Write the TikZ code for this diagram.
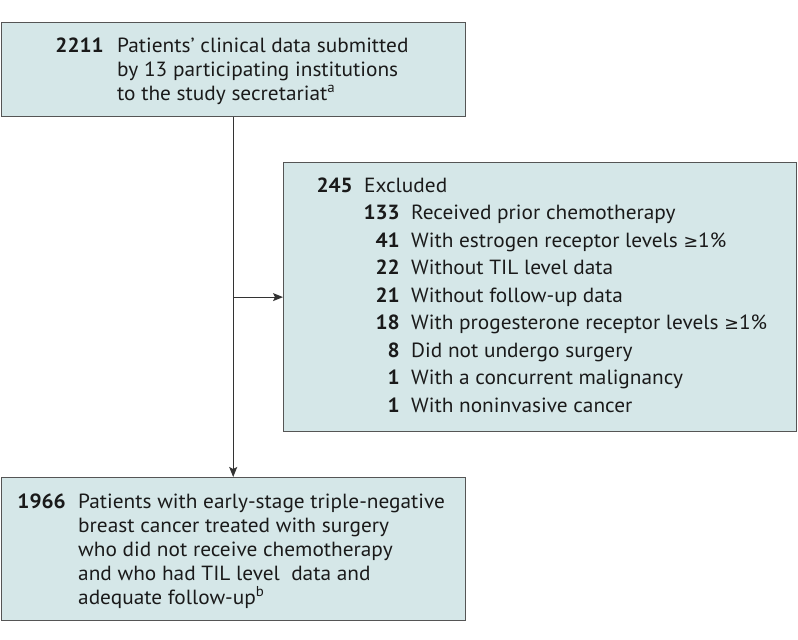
\documentclass[tikz,border=0pt]{standalone}
\usepackage{fontspec}
\setmainfont{PT Sans}[FakeStretch=1.04]
\newfontfamily\symfont{DejaVu Sans}
\usetikzlibrary{arrows.meta}
\definecolor{boxfill}{HTML}{D5E7E8}
\definecolor{boxline}{HTML}{555555}
\definecolor{txt}{HTML}{1A1A1A}
\definecolor{conn}{HTML}{333333}
\newcommand{\mygeq}{{\symfont\fontsize{17.5}{20}\selectfont ≥}}
\begin{document}
\begin{tikzpicture}[x=1pt,y=1pt,
  box/.style={draw=boxline, line width=1.2pt, fill=boxfill, inner sep=0pt, anchor=north west},
  num/.style={anchor=base east, inner sep=0pt, text=txt, font=\fontsize{20.5}{24}\selectfont\bfseries},
  lbl/.style={anchor=base west, inner sep=0pt, text=txt, font=\fontsize{20.5}{24}\selectfont},
  conn/.style={draw=conn, line width=1.1pt, -{Stealth[length=10pt,width=8pt,inset=2pt]}}]
\useasboundingbox (0,0) rectangle (798,-640);
% boxes
\node[box, minimum width=464pt, minimum height=94pt] (top) at (0.6,-22) {};
\node[box, minimum width=513pt, minimum height=269pt] (excl) at (283,-162) {};
\node[box, minimum width=464pt, minimum height=143pt] (bot) at (0.6,-477) {};
% top text
\node[num] (n2211) at (104,-52) {2211};
\node[lbl] (t1a) at (117,-52) {Patients’ clinical data submitted};
\node[lbl] (t1b) at (117,-76) {by 13 participating institutions};
\node[lbl] (t1c) at (117,-100) {to the study secretariat\textsuperscript{a}};
% excluded text
\node[num] (n245) at (353,-192) {245};
\node[lbl] (e0) at (364,-192) {Excluded};
\node[num] (n133) at (400,-219.5) {133};
\node[lbl] (e1) at (411,-219.5) {Received prior chemotherapy};
\node[num] (n41) at (400,-247) {41};
\node[lbl] (e2) at (411,-247) {With estrogen receptor levels \mygeq1\%};
\node[num] (n22) at (400,-274.5) {22};
\node[lbl] (e3) at (411,-274.5) {Without TIL level data};
\node[num] (n21) at (400,-302) {21};
\node[lbl] (e4) at (411,-302) {Without follow-up data};
\node[num] (n18) at (400,-329.5) {18};
\node[lbl] (e5) at (411,-329.5) {With progesterone receptor levels \mygeq1\%};
\node[num] (n8) at (400,-357) {8};
\node[lbl] (e6) at (411,-357) {Did not undergo surgery};
\node[num] (n1a) at (400,-384.5) {1};
\node[lbl] (e7) at (411,-384.5) {With a concurrent malignancy};
\node[num] (n1b) at (400,-412) {1};
\node[lbl] (e8) at (411,-412) {With noninvasive cancer};
% bottom text
\node[num] (n1966) at (66,-508) {1966};
\node[lbl] (b1) at (78,-508) {Patients with early-stage triple-negative};
\node[lbl] (b2) at (78,-532) {breast cancer treated with surgery};
\node[lbl] (b3) at (78,-556) {who did not receive chemotherapy};
\node[lbl] (b4) at (78,-580) {and who had TIL level\ \ data and};
\node[lbl] (b5) at (78,-604) {adequate follow-up\textsuperscript{b}};
% connectors
\draw[conn] (top.south) -- (bot.north);
\coordinate (split) at (top.south |- excl.west);
\draw[conn] (split) -- (excl.west);
\end{tikzpicture}
\end{document}
